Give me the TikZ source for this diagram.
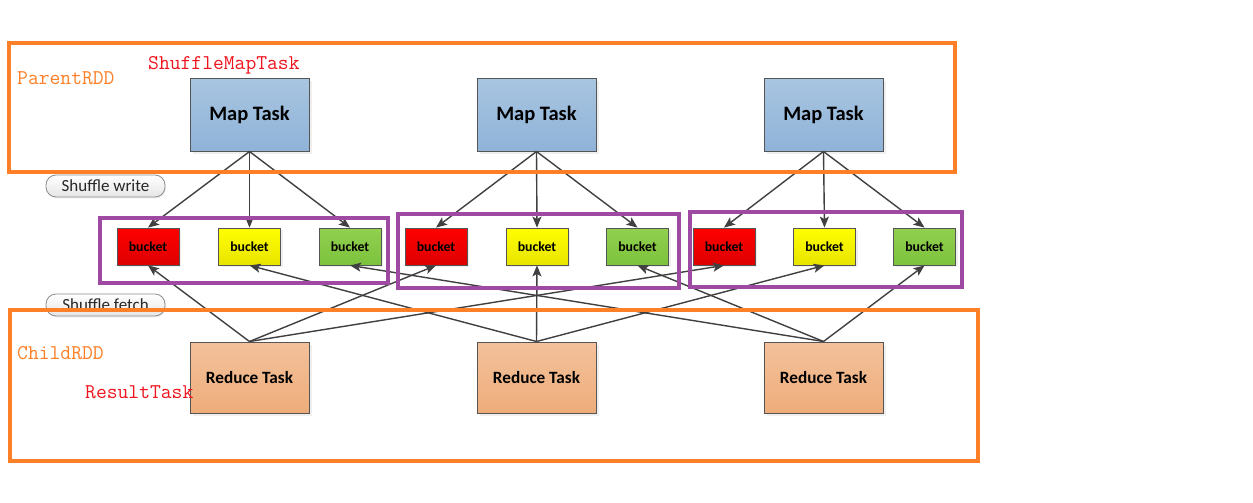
\documentclass[tikz,border=0pt]{standalone}
\usepackage{fontspec}
\setmainfont{Carlito}
\usetikzlibrary{arrows.meta,shadows}
\definecolor{orng}{RGB}{253,128,40}
\definecolor{purp}{RGB}{158,74,162}
\definecolor{lblred}{RGB}{240,20,30}
\definecolor{edge}{RGB}{85,85,85}
\definecolor{arrc}{RGB}{64,64,64}
\tikzset{
  taskbox/.style={draw=edge, line width=1pt, minimum width=119pt, minimum height=72pt, inner sep=0pt,
     font=\fontsize{20.5}{22}\selectfont\bfseries,
     drop shadow={shadow xshift=2.5pt, shadow yshift=-2.5pt, fill=black!12}},
  mapbox/.style={taskbox, top color={rgb,255:red,168;green,197;blue,224}, bottom color={rgb,255:red,143;green,179;blue,216}},
  redbox/.style={taskbox, minimum height=71pt, font=\fontsize{17.2}{19}\selectfont\bfseries, top color={rgb,255:red,243;green,193;blue,155}, bottom color={rgb,255:red,238;green,173;blue,122}},
  bucketbox/.style={draw=edge, line width=0.8pt, minimum width=62pt, minimum height=37pt, inner sep=0pt,
     font=\fontsize{13.8}{15}\selectfont\bfseries,
     drop shadow={shadow xshift=2pt, shadow yshift=-2pt, fill=black!12}},
  bred/.style={bucketbox, top color={rgb,255:red,255;green,0;blue,0}, bottom color={rgb,255:red,222;green,0;blue,0}},
  byel/.style={bucketbox, top color={rgb,255:red,255;green,255;blue,0}, bottom color={rgb,255:red,232;green,228;blue,0}},
  bgrn/.style={bucketbox, top color={rgb,255:red,146;green,208;blue,80}, bottom color={rgb,255:red,124;green,194;blue,60}},
  pill/.style={draw=black!45, line width=0.8pt, rounded corners=10pt, minimum width=119pt, minimum height=22pt, inner sep=0pt,
     top color=white, bottom color=black!10, font=\fontsize{17}{19}\selectfont, text=black!85,
     drop shadow={shadow xshift=1pt, shadow yshift=-1.5pt, fill=black!10}},
  oframe/.style={draw=orng, line width=4pt, inner sep=0pt},
  pframe/.style={draw=purp, line width=4pt, inner sep=0pt},
  arr/.style={draw=arrc, line width=1.4pt, -{Stealth[length=11pt,width=9pt,inset=2.5pt]}},
  lab/.style={inner sep=0pt, anchor=west, font=\ttfamily\fontsize{21}{23}\selectfont},
}
\begin{document}
\begin{tikzpicture}[x=1pt,y=-1pt]
\useasboundingbox (0,0) rectangle (1253,503);
\fill[white] (0,0) rectangle (1253,503);

% pills
\node[pill] (sw) at (105.5,186) {Shuffle write};
\node[pill] (sf) at (105.5,305) {Shuffle fetch};

% map tasks
\node[mapbox] (m1) at (249.5,115) {Map Task};
\node[mapbox] (m2) at (536.5,115) {Map Task};
\node[mapbox] (m3) at (823.5,115) {Map Task};

% buckets
\node[bred] (b11) at (148,246.5) {bucket};
\node[byel] (b12) at (249.5,246.5) {bucket};
\node[bgrn] (b13) at (350,246.5) {bucket};
\node[bred] (b21) at (436,246.5) {bucket};
\node[byel] (b22) at (537,246.5) {bucket};
\node[bgrn] (b23) at (637.5,246.5) {bucket};
\node[bred] (b31) at (724,246.5) {bucket};
\node[byel] (b32) at (824.5,246.5) {bucket};
\node[bgrn] (b33) at (924.5,246.5) {bucket};

% reduce tasks
\node[redbox] (r1) at (249.5,377.5) {Reduce Task};
\node[redbox] (r2) at (536.5,377.5) {Reduce Task};
\node[redbox] (r3) at (823.5,377.5) {Reduce Task};

% map -> bucket
\foreach \m/\g in {m1/1,m2/2,m3/3}{
  \draw[arr] (\m.south) -- (b\g1.north);
  \draw[arr] (\m.south) -- (b\g2.north);
  \draw[arr] (\m.south) -- (b\g3.north);
}
% reduce -> bucket
\foreach \r/\k in {r1/1,r2/2,r3/3}{
  \draw[arr] (\r.north) -- (b1\k.south);
  \draw[arr] (\r.north) -- (b2\k.south);
  \draw[arr] (\r.north) -- (b3\k.south);
}

% frames
\node[oframe, minimum width=946pt, minimum height=129pt] (parent) at (482,107.5) {};
\node[oframe, minimum width=968pt, minimum height=151pt] (child) at (494,385.5) {};
\node[pframe, minimum width=288pt, minimum height=65pt] (g1) at (244,250.5) {};
\node[pframe, minimum width=281pt, minimum height=74pt] (g2) at (538.5,251) {};
\node[pframe, minimum width=272pt, minimum height=75pt] (g3) at (826,249.5) {};

% labels
\node[lab, text=orng] (lp) at (17,78) {ParentRDD};
\node[lab, text=lblred] (ls) at (148,65) {ShuffleMapTask};
\node[lab, text=orng] (lc) at (17,353) {ChildRDD};
\node[lab, text=lblred] (lr) at (85,392) {ResultTask};
\end{tikzpicture}
\end{document}
